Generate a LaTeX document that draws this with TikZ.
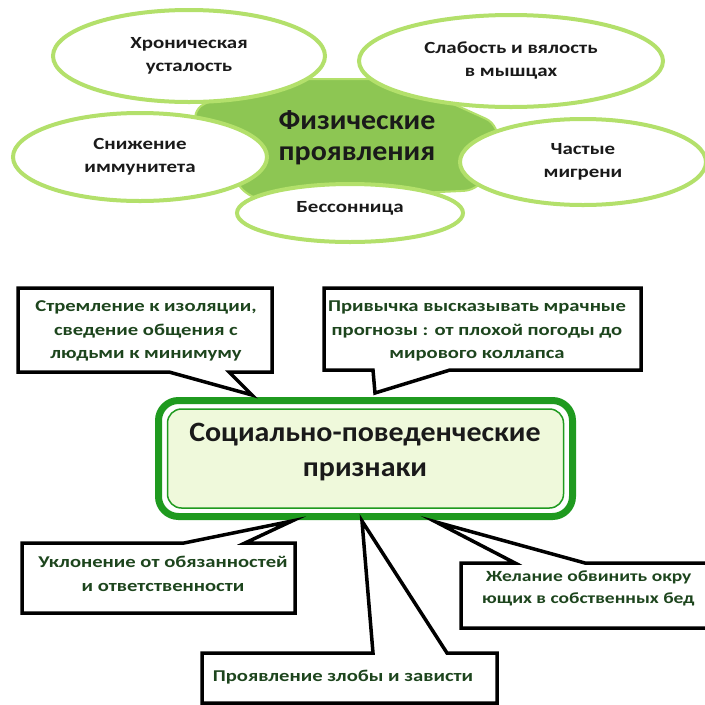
\documentclass[tikz,border=0pt]{standalone}
\usepackage{fontspec}
\setmainfont{Carlito}
\newfontfamily\ellfont[FakeStretch=1.23]{Carlito}
\newfontfamily\boxfont[FakeStretch=1.25]{Carlito}
\newfontfamily\headfont[FakeStretch=1.07]{Carlito}
\usetikzlibrary{shapes.geometric}
\definecolor{limeline}{HTML}{B3E06B}
\definecolor{cfill}{HTML}{8DC653}
\definecolor{boxgreen}{HTML}{1F9A1F}
\definecolor{boxfill}{HTML}{EFF9DB}
\definecolor{txtgreen}{HTML}{1D451D}
\definecolor{txtdark}{HTML}{1A1A1A}
\tikzset{
  ell/.style={ellipse, draw=limeline, line width=4pt, fill=white, inner sep=0pt, align=center,
    text=txtdark, font=\ellfont\fontsize{17}{23}\selectfont\bfseries},
  callout/.style={draw=black, line width=3.5pt, fill=white, line join=miter},
  ctext/.style={align=center, text=txtgreen, inner sep=0pt, font=\boxfont\fontsize{16.5}{23.5}\selectfont\bfseries},
  headtext/.style={align=center, text=txtdark, inner sep=0pt, font=\headfont\fontsize{28}{33}\selectfont\bfseries}
}
\begin{document}
\begin{tikzpicture}[x=1pt,y=-1pt]
\useasboundingbox (0,0) rectangle (705,705);
\clip (0,0) rectangle (705,705);
\fill[white] (0,0) rectangle (705,705);

% central shape of the top part
\draw[fill=cfill, draw=limeline, line width=2pt, rounded corners=18pt]
  (255,79) -- (398,79) -- (502,126) -- (482,190) -- (250,201) -- (188,112) -- cycle;

\node[ell, minimum width=272pt, minimum height=92pt] (chron) at (189,56) {Хроническая\\усталость};
\node[ell, minimum width=304pt, minimum height=92pt] (weak) at (511,61) {Слабость и вялость\\в мышцах};
\node[ell, minimum width=254pt, minimum height=88pt] (immun) at (140,157) {Снижение\\иммунитета};
\node[ell, minimum width=246pt, minimum height=86pt] (migr) at (583,162) {Частые\\мигрени};
\node[ell, minimum width=226pt, minimum height=58pt] (insom) at (350,213) {};
\node[text=txtdark, inner sep=0pt, font=\ellfont\fontsize{17}{23}\selectfont\bfseries] (insomt) at (350,208) {Бессонница};
\node[headtext, font=\headfont\fontsize{28}{31}\selectfont\bfseries] (phys) at (357,138) {Физические\\проявления};

% main box
\node[draw=boxgreen, line width=7pt, rounded corners=20pt, fill=white,
      minimum width=414pt, minimum height=116pt, inner sep=0pt] (main) at (365.5,458.5) {};
\node[draw=boxgreen, line width=1.5pt, rounded corners=14pt, fill=boxfill,
      minimum width=396pt, minimum height=99pt, inner sep=0pt] (maininner) at (365.5,458.5) {};
\node[headtext, font=\headfont\fontsize{28}{35}\selectfont\bfseries] (maint) at (365,452) {Социально-поведенческие\\признаки};

% callouts
\coordinate (t1) at (252,395);
\coordinate (t2) at (375,393);
\coordinate (t3) at (292,521);
\coordinate (t4) at (362,521);
\coordinate (t5) at (436,522);

\draw[callout] (18,288) -- (272,288) -- (272,372) -- (229,372) -- (t1) -- (169,372) -- (18,372) -- cycle;
\draw[callout] (324,288) -- (641,288) -- (641,370) -- (450,370) -- (t2) -- (373,370) -- (324,370) -- cycle;
\draw[callout] (22,543) -- (184,543) -- (t3) -- (245,543) -- (295,543) -- (295,613) -- (22,613) -- cycle;
\draw[callout] (202,653) -- (373,653) -- (t4) -- (447,653) -- (497,653) -- (497,703) -- (202,703) -- cycle;
\draw[callout] (461,563) -- (515,563) -- (t5) -- (585,563) -- (730,563) -- (730,628) -- (461,628) -- cycle;

\node[ctext] (c1) at (146,331) {Стремление к изоляции,\\сведение общения с\\людьми к минимуму};
\node[ctext] (c2) at (477,331) {Привычка высказывать мрачные\\прогнозы : от плохой погоды до\\мирового коллапса};
\node[ctext] (c3) at (163,574) {Уклонение от обязанностей\\и ответственности};
\node[ctext] (c4) at (343,677) {Проявление злобы и зависти};
\node[ctext, font=\boxfont\fontsize{15.6}{22}\selectfont\bfseries, anchor=west] (c5a) at (486,577) {Желание обвинить окру};
\node[ctext, font=\boxfont\fontsize{15.6}{22}\selectfont\bfseries, anchor=west] (c5b) at (482,599) {ющих в собственных бед};
\end{tikzpicture}
\end{document}
